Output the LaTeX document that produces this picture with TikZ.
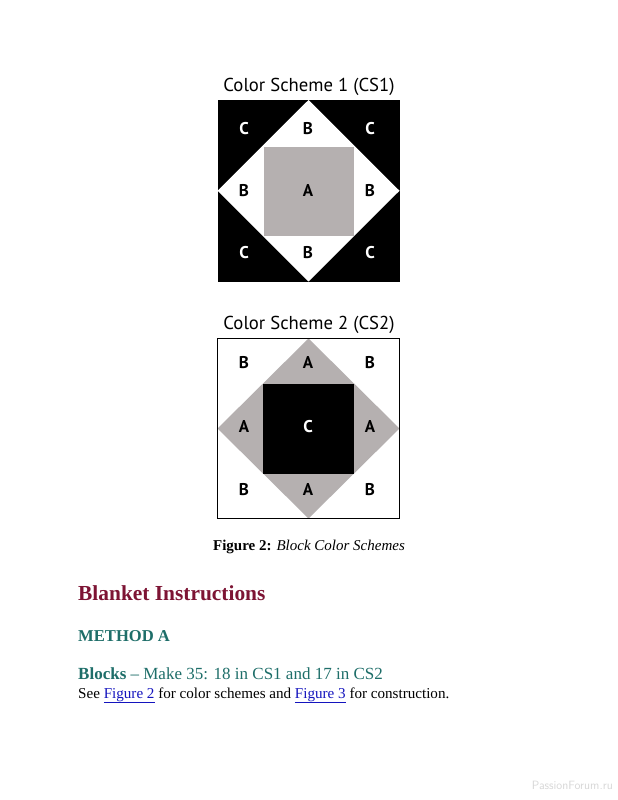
\documentclass[tikz,border=0pt]{standalone}
\usepackage{fontspec}
\setmainfont{Liberation Serif}
\newfontfamily\blocksans{PT Sans}
\definecolor{quiltgray}{RGB}{181,176,176}
\definecolor{headred}{RGB}{125,20,52}
\definecolor{headteal}{RGB}{30,110,105}
\definecolor{linkblue}{RGB}{20,20,190}
\definecolor{wmgray}{RGB}{215,215,215}
\tikzset{
  lbl/.style={font=\blocksans\bfseries\fontsize{17}{17}\selectfont, inner sep=0pt, anchor=center},
  wlbl/.style={lbl, text=white},
  ttl/.style={font=\blocksans\fontsize{18.7}{20}\selectfont, inner sep=0pt, anchor=base},
  txt/.style={inner sep=0pt, anchor=base west},
}
\begin{document}
\begin{tikzpicture}[x=1pt,y=-1pt]
\path[use as bounding box, fill=white] (0,0) rectangle (618,800);

% ---------- Colour scheme 1 ----------
\node[ttl] (t1) at (309,91.5) {Color Scheme 1 (CS1)};
\fill[black] (217.5,100) rectangle (399.5,281.5);
\fill[white] (308.5,100) -- (399.5,190.75) -- (308.5,281.5) -- (217.5,190.75) -- cycle;
\fill[quiltgray] (263.5,146.5) rectangle (353.5,235.5);
\node[wlbl] (a1) at (244,129) {C};
\node[lbl]  (a2) at (308,129) {B};
\node[wlbl] (a3) at (370,129) {C};
\node[lbl]  (a4) at (244,191) {B};
\node[lbl]  (a5) at (308,191) {A};
\node[lbl]  (a6) at (370,191) {B};
\node[wlbl] (a7) at (244,253) {C};
\node[lbl]  (a8) at (308,253) {B};
\node[wlbl] (a9) at (370,253) {C};

% ---------- Colour scheme 2 ----------
\node[ttl] (t2) at (309,329) {Color Scheme 2 (CS2)};
\fill[quiltgray] (308.5,338.5) -- (399.5,428.5) -- (308.5,518.5) -- (217.5,428.5) -- cycle;
\fill[black] (263,383.5) rectangle (354,473.5);
\draw[black, line width=1.8pt] (217.5,338.5) rectangle (399.5,518.5);
\node[lbl]  (b1) at (244,363) {B};
\node[lbl]  (b2) at (308,363) {A};
\node[lbl]  (b3) at (370,363) {B};
\node[lbl]  (b4) at (244,427) {A};
\node[wlbl] (b5) at (308,427) {C};
\node[lbl]  (b6) at (370,427) {A};
\node[lbl]  (b7) at (244,490) {B};
\node[lbl]  (b8) at (308,490) {A};
\node[lbl]  (b9) at (370,490) {B};

% ---------- Text ----------
\node[inner sep=0pt, anchor=base, font=\fontsize{15}{17}\selectfont] (cap) at (309,550)
  {\textbf{Figure 2:} \textit{Block Color Schemes}};
\node[txt, text=headred, font=\bfseries\fontsize{21.4}{24}\selectfont] (h1) at (78,600) {Blanket Instructions};
\node[txt, text=headteal, font=\bfseries\fontsize{16.6}{19}\selectfont] (h2) at (78,641.5) {METHOD A};
\node[txt, text=headteal, font=\fontsize{17}{19}\selectfont] (h3) at (78,679) {\textbf{Blocks} -- Make 35: 18 in CS1 and 17 in CS2};
\node[txt, font=\fontsize{15.1}{17}\selectfont] (p1) at (78,698)
  {See \textcolor{linkblue}{\underline{Figure 2}} for color schemes and \textcolor{linkblue}{\underline{Figure 3}} for construction.};
\node[inner sep=0pt, anchor=base east, text=wmgray, font=\sffamily\fontsize{12}{13}\selectfont] (wm) at (613,789) {PassionForum.ru};
\end{tikzpicture}
\end{document}
